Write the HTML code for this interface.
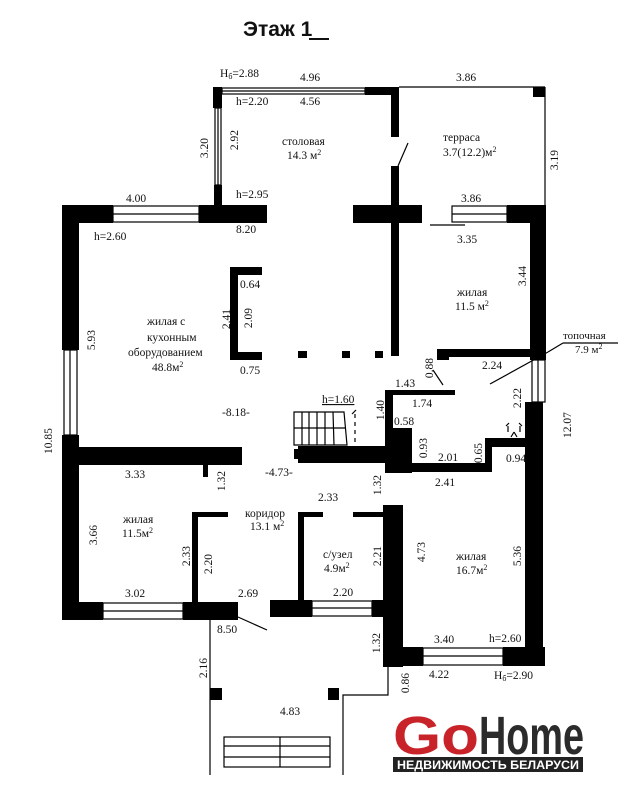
<!DOCTYPE html>
<html><head><meta charset="utf-8"><style>
html,body{margin:0;padding:0;background:#fff;}
svg{display:block;}
text{font-family:"Liberation Serif",serif;font-size:11.5px;fill:#111;}
.s{font-family:"Liberation Sans",sans-serif;}
</style></head><body>
<svg width="628" height="800" viewBox="0 0 628 800" xmlns="http://www.w3.org/2000/svg">
<rect width="628" height="800" fill="#fff"/>
<text x="243" y="36" class="s" style="font-size:21px;font-weight:bold">Этаж <tspan>1</tspan></text>
<rect x="309" y="38" width="20" height="2" fill="#111"/>

<g fill="#000">
<rect x="213" y="87" width="9" height="21"/>
<rect x="365" y="87" width="34" height="8"/>
<rect x="391" y="87" width="8" height="50"/>
<rect x="391" y="166" width="8" height="190"/>
<rect x="353" y="205" width="69" height="18"/>
<rect x="214" y="185" width="8" height="20"/>
<rect x="62" y="205" width="51" height="18"/>
<rect x="199" y="205" width="68" height="18"/>
<rect x="62" y="205" width="17" height="145"/>
<rect x="62" y="435" width="17" height="185"/>
<rect x="507" y="205" width="38" height="18"/>
<rect x="530" y="205" width="16" height="155"/>
<rect x="533" y="87" width="12" height="10"/>
<rect x="230" y="267" width="32" height="8"/>
<rect x="230" y="267" width="8" height="93"/>
<rect x="230" y="352" width="32" height="8"/>
<rect x="298" y="351" width="9" height="7"/>
<rect x="342" y="351" width="8" height="7"/>
<rect x="375" y="351" width="8" height="7"/>
<rect x="437" y="349" width="96" height="8"/>
<rect x="437" y="349" width="12" height="11"/>
<rect x="385" y="390" width="70" height="5"/>
<rect x="385" y="390" width="8" height="83"/>
<rect x="385" y="428" width="27" height="45"/>
<rect x="412" y="463" width="80" height="9"/>
<rect x="485" y="438" width="7" height="34"/>
<rect x="485" y="438" width="42" height="9"/>
<rect x="525" y="402" width="18" height="263"/>
<rect x="298" y="446" width="94" height="17"/>
<rect x="294" y="449" width="8" height="10"/>
<rect x="62" y="447" width="180" height="18"/>
<rect x="203" y="465" width="5" height="12"/>
<rect x="192" y="513" width="6" height="90"/>
<rect x="192" y="512" width="36" height="5"/>
<rect x="62" y="602" width="41" height="18"/>
<rect x="183" y="602" width="55" height="18"/>
<rect x="298" y="512" width="6" height="90"/>
<rect x="298" y="512" width="25" height="5"/>
<rect x="353" y="512" width="32" height="5"/>
<rect x="270" y="600" width="42" height="17"/>
<rect x="372" y="600" width="13" height="17"/>
<rect x="383" y="505" width="20" height="162"/>
<rect x="383" y="647" width="40" height="19"/>
<rect x="503" y="647" width="42" height="19"/>
<rect x="210" y="688" width="12" height="12"/>
<rect x="328" y="688" width="11" height="12"/>
</g>

<g fill="none" stroke="#000" stroke-width="1.2">
<rect x="222" y="88" width="143" height="6"/><line x1="222" y1="91" x2="365" y2="91"/>
<rect x="215" y="108" width="6" height="77"/><line x1="218" y1="108" x2="218" y2="185"/>
<rect x="113" y="206" width="86" height="16"/><line x1="113" y1="214" x2="199" y2="214"/>
<rect x="452" y="206" width="55" height="16"/><line x1="452" y1="214" x2="507" y2="214"/>
<rect x="64" y="350" width="13" height="85"/><line x1="70" y1="350" x2="70" y2="435"/>
<rect x="532" y="360" width="13" height="42"/><line x1="538" y1="360" x2="538" y2="402"/>
<rect x="103" y="603" width="80" height="16"/><line x1="103" y1="611" x2="183" y2="611"/>
<rect x="312" y="601" width="60" height="15"/><line x1="312" y1="608" x2="372" y2="608"/>
<rect x="423" y="648" width="80" height="17"/><line x1="423" y1="656" x2="503" y2="656"/>
<line x1="399" y1="87" x2="545" y2="87"/>
<line x1="545" y1="87" x2="545" y2="205"/>
<line x1="398" y1="166" x2="408" y2="143"/>
<line x1="430" y1="225" x2="465" y2="225"/>
<line x1="490" y1="384" x2="548" y2="352"/>
<line x1="548" y1="352" x2="563" y2="343"/>
<line x1="563" y1="343" x2="618" y2="343"/>
<line x1="433" y1="370" x2="443" y2="385"/>
<path d="M294 412 H344 L347 445 H294 Z"/>
<line x1="294" y1="428" x2="346" y2="428"/>
<line x1="302" y1="412" x2="302" y2="445"/><line x1="309" y1="412" x2="309" y2="445"/>
<line x1="317" y1="412" x2="317" y2="445"/><line x1="325" y1="412" x2="325" y2="445"/>
<line x1="333" y1="412" x2="334" y2="445"/>
<line x1="355" y1="414" x2="355" y2="445" stroke-dasharray="4,4"/>
<line x1="352" y1="414" x2="356" y2="410"/>
<line x1="238" y1="617" x2="267" y2="630"/>
<line x1="210" y1="620" x2="210" y2="775"/>
<polyline points="388,667 388,695 343,695 343,775"/>
<rect x="224" y="737" width="106" height="30"/>
<line x1="224" y1="746" x2="330" y2="746"/><line x1="224" y1="757" x2="330" y2="757"/>
<line x1="280" y1="737" x2="280" y2="767"/>
<path d="M508 432 v-6 M520 432 v-6 M506 426 l3 -3 M522 426 l-3 -3 M514 432 l-3 5 M514 432 l3 5"/>
</g>

<text x="220" y="77">H<tspan font-size="8" dy="2">б</tspan><tspan dy="-2">=2.88</tspan></text>
<text x="300" y="81">4.96</text>
<text x="456" y="81">3.86</text>
<text x="236" y="105">h=2.20</text>
<text x="300" y="105">4.56</text>
<text x="282" y="145">столовая</text>
<text x="287" y="159">14.3 м<tspan font-size="8" dy="-4">2</tspan></text>
<text x="443" y="141">терраса</text>
<text x="443" y="156">3.7(12.2)м<tspan font-size="8" dy="-4">2</tspan></text>
<text x="236" y="198">h=2.95</text>
<text x="126" y="202">4.00</text>
<text x="461" y="202">3.86</text>
<text x="236" y="233">8.20</text>
<text x="94" y="240">h=2.60</text>
<text x="457" y="243">3.35</text>
<text x="457" y="296">жилая</text>
<text x="455" y="310">11.5 м<tspan font-size="8" dy="-4">2</tspan></text>
<text x="240" y="288">0.64</text>
<text x="240" y="374">0.75</text>
<text x="147" y="325">жилая с</text>
<text x="147" y="341">кухонным</text>
<text x="128" y="356">оборудованием</text>
<text x="152" y="371">48.8м<tspan font-size="8" dy="-4">2</tspan></text>
<text x="482" y="369">2.24</text>
<text x="563" y="339" style="font-size:11px">топочная</text>
<text x="575" y="353" style="font-size:11px">7.9 м<tspan font-size="8" dy="-4">2</tspan></text>
<text x="395" y="387">1.43</text>
<text x="412" y="407">1.74</text>
<text x="322" y="403" text-decoration="underline">h=1.60</text>
<text x="222" y="416">-8.18-</text>
<text x="394" y="425">0.58</text>
<text x="438" y="461">2.01</text>
<text x="506" y="462">0.94</text>
<text x="265" y="476">-4.73-</text>
<text x="125" y="478">3.33</text>
<text x="435" y="486">2.41</text>
<text x="318" y="501">2.33</text>
<text x="245" y="517">коридор</text>
<text x="250" y="530">13.1 м<tspan font-size="8" dy="-4">2</tspan></text>
<text x="123" y="523">жилая</text>
<text x="122" y="537">11.5м<tspan font-size="8" dy="-4">2</tspan></text>
<text x="323" y="558">с/узел</text>
<text x="324" y="572">4.9м<tspan font-size="8" dy="-4">2</tspan></text>
<text x="456" y="560">жилая</text>
<text x="456" y="574">16.7м<tspan font-size="8" dy="-4">2</tspan></text>
<text x="125" y="597">3.02</text>
<text x="238" y="597">2.69</text>
<text x="333" y="596">2.20</text>
<text x="217" y="633">8.50</text>
<text x="434" y="643">3.40</text>
<text x="489" y="642">h=2.60</text>
<text x="429" y="678">4.22</text>
<text x="494" y="679">H<tspan font-size="8" dy="2">б</tspan><tspan dy="-2">=2.90</tspan></text>
<text x="280" y="715">4.83</text>

<g>
<text transform="translate(208,148) rotate(-90)" text-anchor="middle">3.20</text>
<text transform="translate(238,140) rotate(-90)" text-anchor="middle">2.92</text>
<text transform="translate(558,160) rotate(-90)" text-anchor="middle">3.19</text>
<text transform="translate(230,319) rotate(-90)" text-anchor="middle">2.41</text>
<text transform="translate(252,318) rotate(-90)" text-anchor="middle">2.09</text>
<text transform="translate(526,276) rotate(-90)" text-anchor="middle">3.44</text>
<text transform="translate(95,340) rotate(-90)" text-anchor="middle">5.93</text>
<text transform="translate(433,368) rotate(-90)" text-anchor="middle">0.88</text>
<text transform="translate(52,441) rotate(-90)" text-anchor="middle">10.85</text>
<text transform="translate(384,410) rotate(-90)" text-anchor="middle">1.40</text>
<text transform="translate(521,398) rotate(-90)" text-anchor="middle">2.22</text>
<text transform="translate(571,425) rotate(-90)" text-anchor="middle">12.07</text>
<text transform="translate(427,448) rotate(-90)" text-anchor="middle">0.93</text>
<text transform="translate(482,453) rotate(-90)" text-anchor="middle">0.65</text>
<text transform="translate(225,481) rotate(-90)" text-anchor="middle">1.32</text>
<text transform="translate(381,485) rotate(-90)" text-anchor="middle">1.32</text>
<text transform="translate(97,535) rotate(-90)" text-anchor="middle">3.66</text>
<text transform="translate(190,556) rotate(-90)" text-anchor="middle">2.33</text>
<text transform="translate(212,564) rotate(-90)" text-anchor="middle">2.20</text>
<text transform="translate(381,556) rotate(-90)" text-anchor="middle">2.21</text>
<text transform="translate(425,552) rotate(-90)" text-anchor="middle">4.73</text>
<text transform="translate(521,556) rotate(-90)" text-anchor="middle">5.36</text>
<text transform="translate(380,643) rotate(-90)" text-anchor="middle">1.32</text>
<text transform="translate(207,668) rotate(-90)" text-anchor="middle">2.16</text>
<text transform="translate(409,683) rotate(-90)" text-anchor="middle">0.86</text>
</g>

<text x="393" y="754" class="s" style="font-size:54px;font-weight:bold;fill:#c9232a" textLength="86" lengthAdjust="spacingAndGlyphs">Go</text>
<text x="479" y="754" class="s" style="font-size:54px;font-weight:bold;fill:#2b2b2b" textLength="105" lengthAdjust="spacingAndGlyphs">Home</text>
<rect x="393" y="757" width="190" height="15" fill="#222"/>
<text x="397" y="769" class="s" style="font-size:11.5px;font-weight:bold;fill:#fff" textLength="182" lengthAdjust="spacingAndGlyphs">НЕДВИЖИМОСТЬ БЕЛАРУСИ</text>
</svg>
</body></html>
